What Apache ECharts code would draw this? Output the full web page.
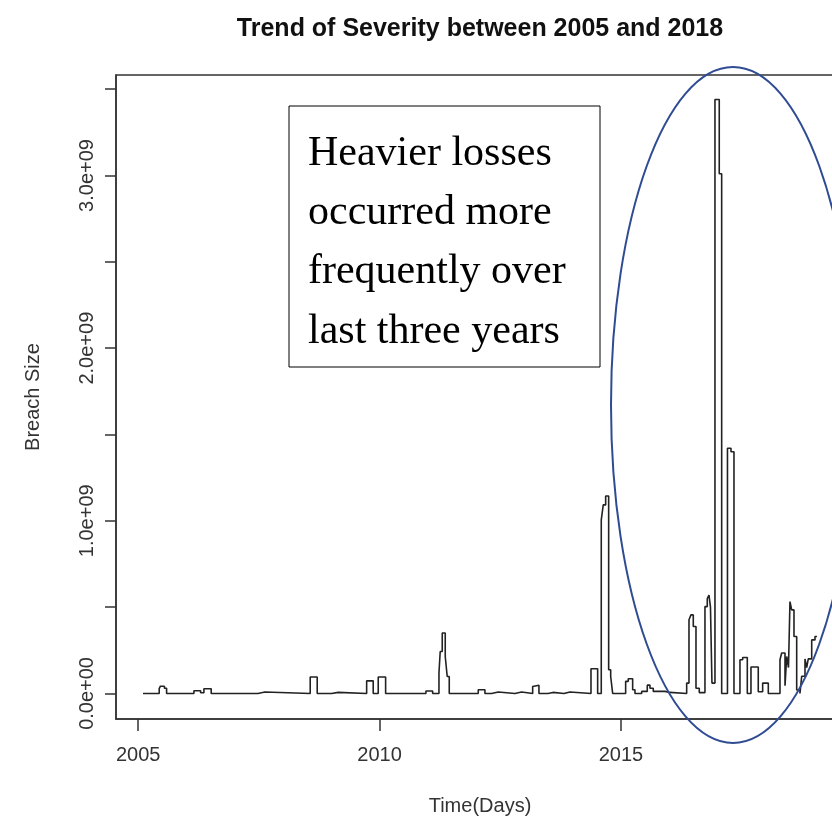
<!DOCTYPE html>
<html>
<head>
<meta charset="utf-8">
<script src="https://cdn.jsdelivr.net/npm/echarts@6/dist/echarts.min.js"></script>
<style>html,body{margin:0;padding:0;background:#fff}#c{width:832px;height:818px}</style>
</head>
<body>
<div id="c"></div>
<script>
// Change points of the step series (decimal year) and breach size (billions)
const years = [
  2005.10, 2005.435, 2005.46, 2005.543, 2005.588,
  2006.154, 2006.293, 2006.361, 2006.512,
  2007.48, 2007.625,
  2008.563, 2008.708,
  2009.007, 2009.143, 2009.732, 2009.868, 2009.972,
  2010.125, 2010.96,
  2011.099, 2011.23, 2011.256, 2011.298, 2011.36, 2011.401, 2011.443,
  2012.044, 2012.182, 2012.321, 2012.458, 2012.804, 2012.943,
  2013.171, 2013.204, 2013.301, 2013.488, 2013.591, 2013.819, 2013.943,
  2014.379, 2014.517, 2014.592, 2014.633, 2014.683, 2014.745, 2014.787, 2014.828,
  2015.097, 2015.151, 2015.242, 2015.29, 2015.429, 2015.545, 2015.601, 2015.669, 2015.912,
  2016.015, 2016.361, 2016.409, 2016.45, 2016.498, 2016.554, 2016.622, 2016.74, 2016.788,
  2016.823, 2016.854, 2016.885, 2016.947,
  2017.036, 2017.086, 2017.206, 2017.279, 2017.341, 2017.465, 2017.521, 2017.617, 2017.693,
  2017.844, 2017.935,
  2018.052, 2018.294, 2018.329, 2018.398, 2018.433, 2018.47, 2018.501, 2018.536, 2018.584,
  2018.64, 2018.708, 2018.744, 2018.812, 2018.847, 2018.88, 2018.951,
  2019.019, 2019.06
];
const sizeBillions = [
  0, 0.028, 0.042, 0.03, 0,
  0.016, 0.004, 0.027, 0,
  0.008, 0,
  0.095, 0,
  0.006, 0, 0.073, 0, 0.095,
  0, 0.014,
  0, 0.118, 0.243, 0.35, 0.214, 0.098, 0,
  0.021, 0, 0.008, 0, 0.008, 0,
  0.04, 0.048, 0, 0.006, 0, 0.008, 0,
  0.143, 0, 1.005, 1.092, 1.144, 0.137, 0.098, 0,
  0.07, 0.085, 0.021, 0, 0.012, 0.048, 0.03, 0.012, 0.006,
  0, 0.06, 0.427, 0.455, 0.388, 0.03, 0.005, 0.503, 0.55,
  0.57, 0.5, 0.06, 3.44,
  3.01, 0, 1.42, 1.40, 0, 0.195, 0.208, 0, 0.153,
  0.01, 0.06,
  0, 0.195, 0.234, 0.045, 0.214, 0.15, 0.532, 0.484, 0.33,
  0.02, 0, 0.1, 0.2, 0.15, 0.2, 0.31,
  0.33, 0.33
];
const xTickValues = [2005, 2010, 2015];
const xTickLabels = ['2005', '2010', '2015'];
const yTickValuesB = [0, 0.5, 1, 1.5, 2, 2.5, 3, 3.5];
const yLabelValuesB = [0, 1, 2, 3];
const yTickLabels = ['0.0e+00', '1.0e+09', '2.0e+09', '3.0e+09'];

const titleText = 'Trend of Severity between 2005 and 2018';
const xName = 'Time(Days)';
const yName = 'Breach Size';
const noteText = 'Heavier losses\noccurred more\nfrequently over\nlast three years';

const seriesData = years.map((y, i) => [y, sizeBillions[i] * 1e9]);

const chart = echarts.init(document.getElementById('c'), null, {renderer: 'canvas'});
const axisFont = 'Liberation Sans';
chart.setOption({
  animation: false,
  backgroundColor: '#fff',
  title: {
    text: titleText,
    left: 480,
    top: 17,
    padding: 0,
    textAlign: 'center',
    textStyle: {fontFamily: axisFont, fontSize: 25, fontWeight: 'bold', color: '#111'}
  },
  grid: {
    left: 116, top: 75, right: -12, bottom: 99,
    outerBoundsMode: 'none',
    containLabel: false,
    show: true, borderColor: '#333', borderWidth: 1.5, backgroundColor: 'transparent'
  },
  xAxis: {
    type: 'value',
    min: 2004.54, max: 2019.62,
    name: xName, nameLocation: 'middle', nameGap: 77,
    nameTextStyle: {fontFamily: axisFont, fontSize: 20, color: '#333'},
    splitLine: {show: false},
    axisLine: {show: true, onZero: false, lineStyle: {color: '#333', width: 1.5}},
    axisTick: {show: true, length: 12, lineStyle: {color: '#333', width: 1.5}, customValues: xTickValues},
    axisLabel: {
      customValues: xTickValues, margin: 26,
      fontFamily: axisFont, fontSize: 20, color: '#333',
      formatter: v => xTickLabels[xTickValues.indexOf(Math.round(v))]
    }
  },
  yAxis: {
    type: 'value',
    min: -0.148e9, max: 3.582e9,
    name: yName, nameLocation: 'middle', nameGap: 73, nameRotate: 90,
    nameTextStyle: {fontFamily: axisFont, fontSize: 20, color: '#333'},
    splitLine: {show: false},
    axisLine: {show: true, onZero: false, lineStyle: {color: '#333', width: 1.5}},
    axisTick: {show: true, length: 11, lineStyle: {color: '#333', width: 1.5},
      customValues: yTickValuesB.map(v => v * 1e9)},
    axisLabel: {
      customValues: yLabelValuesB.map(v => v * 1e9), rotate: 90, margin: 19,
      fontFamily: axisFont, fontSize: 20, color: '#333',
      formatter: v => yTickLabels[yLabelValuesB.indexOf(Math.round(v / 1e9))]
    }
  },
  series: [{
    type: 'line',
    step: 'end',
    data: seriesData,
    showSymbol: false,
    lineStyle: {color: '#222', width: 1.6},
    z: 2
  }],
  graphic: [
    {
      type: 'rect', z: 10,
      shape: {x: 289, y: 106, width: 311, height: 261},
      style: {fill: '#fff', stroke: '#000', lineWidth: 1}
    },
    {
      type: 'text', z: 11, x: 308, y: 124,
      style: {text: noteText, fontFamily: 'Liberation Serif', fontSize: 42, lineHeight: 59.3,
        fill: '#000', verticalAlign: 'top', align: 'left'}
    },
    {
      type: 'ellipse', z: 12,
      shape: {cx: 733, cy: 405, rx: 122, ry: 338},
      style: {fill: 'none', stroke: '#2F4C93', lineWidth: 2}
    }
  ]
});
</script>
</body>
</html>
